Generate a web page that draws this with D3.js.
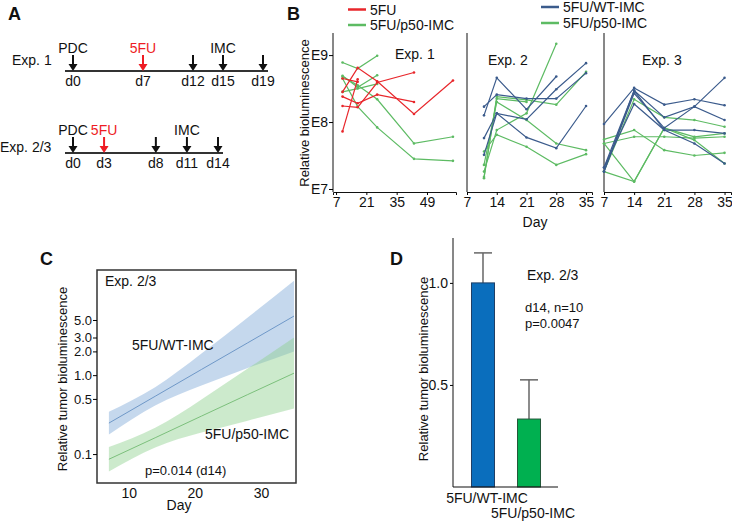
<!DOCTYPE html>
<html>
<head>
<meta charset="utf-8">
<script src="https://cdn.jsdelivr.net/npm/d3@7"></script>
<style>
  body { margin: 0; background: #fff; }
  svg { display: block; font-family: "Liberation Sans", Arial, sans-serif; }
</style>
</head>
<body>
<script>
// ---- Panel A: treatment timelines ----
const a1Days = [0, 7, 12, 15, 19];
const a1Top = ['PDC', '5FU', '', 'IMC', ''];
const a2Days = [0, 3, 8, 11, 14];
const a2Top = ['PDC', '5FU', '', 'IMC', ''];

// ---- Panel B: log10 bioluminescence per mouse ----
const b1Days = [10, 17, 26, 43, 61];
const b1Red = [
  [8.65, 8.60],
  [8.45, 8.81, 8.61, 8.12, 8.62],
  [8.38, 8.28, 8.41, 8.30],
  [8.24, 8.22, 8.59, 8.74],
  [7.86, 8.64]
];
const b1Green = [
  [8.89, 8.80, 8.99],
  [8.69, 8.52, 8.70],
  [8.68, 8.55, 8.34, 7.68, 7.78],
  [8.45, 8.50, 8.57],
  [8.65, 8.23, 7.92, 7.45, 7.42]
];
const b2Days = [11, 14, 21, 28, 35];
const b2Blue = [
  [8.10, 8.66, 8.19, 8.68],
  [8.23, 8.41, 8.35, 8.35, 8.73],
  [7.76, 8.13, 8.04, 8.49, 8.88],
  [7.51, 8.13, 7.77, 7.61, 8.24]
];
const b2Green = [
  [7.16, 8.38, 8.33, 8.26, 8.75],
  [7.26, 7.88, 8.13, 9.17],
  [7.36, 8.30, 8.03, 7.68, 7.58],
  [7.56, 7.81, 7.63, 7.36, 7.52],
  [7.18, 8.35, 8.30]
];
const b3Days = [7, 14, 21, 28, 35];
const b3Blue = [
  [7.97, 8.51, 8.26, 8.34, 8.25],
  [7.32, 8.47, 8.07, 8.23, 8.03],
  [7.26, 8.43, 7.91, 8.23, 8.66],
  [7.32, 8.27, 7.88, 7.88, 7.83],
  [7.26, 8.47, 7.88, 7.68, 7.38]
];
const b3Green = [
  [7.26, 8.34, 8.07, 8.03, 7.93],
  [7.74, 7.88, 7.58, 7.50, 7.54],
  [7.26, 7.11, 7.91, 7.78, 7.83],
  [7.68, 7.78, 7.78, 7.76, 7.78],
  [7.68, 7.11, 7.91, 7.73, 7.38]
];

// ---- Panel C: fitted growth with confidence band ----
const cDays = [7, 14, 21, 28, 35];
const cWtMid = [0.247, 0.540, 1.18, 2.57, 5.61];
const cWtLow = [0.177, 0.413, 0.740, 1.23, 2.00];
const cWtHigh = [0.345, 0.705, 1.875, 5.38, 15.7];
const cP50Mid = [0.086, 0.161, 0.303, 0.568, 1.06];
const cP50Low = [0.060, 0.121, 0.187, 0.265, 0.378];
const cP50High = [0.123, 0.215, 0.491, 1.21, 3.00];
const cTicks = [0.1, 0.5, 1, 2, 3, 5];

// ---- Panel D: day 14 bars ----
const dGroups = ['5FU/WT-IMC', '5FU/p50-IMC'];
const dMeans = [1.0, 0.333];
const dErr = [0.147, 0.192];

const RED = '#e8262b', GREEN = '#5dbb63', BLUE = '#3b5b8c';

const svg = d3.select('body').append('svg')
  .attr('width', 732).attr('height', 522);

function label(x, y, t, opts = {}) {
  return svg.append('text').attr('x', x).attr('y', y)
    .attr('font-size', opts.size || 14)
    .attr('font-weight', opts.bold ? 'bold' : null)
    .attr('text-anchor', opts.anchor || 'start')
    .attr('fill', opts.color || '#111')
    .text(t);
}

// panel letters
label(8, 20, 'A', { size: 18, bold: true });
label(287, 20, 'B', { size: 18, bold: true });
label(40, 265, 'C', { size: 18, bold: true });
label(390, 265, 'D', { size: 18, bold: true });

// ================= Panel A =================
function timeline(days, tops, x, lineY, redIdx, name, nameY) {
  svg.append('line')
    .attr('x1', x(days[0]) - 8).attr('x2', x(days[days.length - 1]) + 5)
    .attr('y1', lineY).attr('y2', lineY)
    .attr('stroke', '#333').attr('stroke-width', 2);
  days.forEach((d, i) => {
    const cx = x(d);
    const col = i === redIdx ? '#ee1c24' : '#111';
    svg.append('line').attr('x1', cx).attr('x2', cx)
      .attr('y1', lineY - 16).attr('y2', lineY - 6)
      .attr('stroke', col).attr('stroke-width', 2);
    svg.append('path')
      .attr('d', `M${cx - 4.5},${lineY - 7} L${cx + 4.5},${lineY - 7} L${cx},${lineY} Z`)
      .attr('fill', col);
    if (tops[i]) label(cx, lineY - 18, tops[i], { anchor: 'middle', color: col });
    label(cx, lineY + 15, 'd' + d, { anchor: 'middle' });
  });
  label(name[0], nameY, name[1]);
}
const xA1 = d3.scaleLinear().domain([0, 19]).range([73, 263]);
const xA2 = d3.scaleLinear().domain([0, 14]).range([73, 218]);
timeline(a1Days, a1Top, xA1, 71, 1, [12, 'Exp. 1'], 65);
timeline(a2Days, a2Top, xA2, 153, 1, [0, 'Exp. 2/3'], 152);

// ================= Panel B =================
const yB = d3.scaleLinear().domain([6.955, 9.33]).range([192, 33]);

function drawLines(groups, days, x, color) {
  const line = d3.line().x((v, i) => x(days[i])).y(v => yB(v));
  groups.forEach(vals => {
    svg.append('path').attr('d', line(vals))
      .attr('fill', 'none').attr('stroke', color).attr('stroke-width', 1.2);
    svg.selectAll(null).data(vals).enter().append('circle')
      .attr('cx', (v, i) => x(days[i])).attr('cy', v => yB(v))
      .attr('r', 1.3).attr('fill', color);
  });
}
function bAxes(x, ticks) {
  const x0 = x.range()[0];
  svg.append('line').attr('x1', x0).attr('x2', x0).attr('y1', 33).attr('y2', 192)
    .attr('stroke', '#111');
  const ax = svg.append('g').attr('transform', 'translate(0,192)')
    .call(d3.axisBottom(x).tickValues(ticks).tickSize(3).tickPadding(2));
  ax.select('.domain').attr('stroke', '#111');
  ax.selectAll('text').attr('font-size', 14).attr('fill', '#111')
    .attr('font-family', '"Liberation Sans", Arial, sans-serif');
}
const xB1 = d3.scaleLinear().domain([5.6, 62.4]).range([333, 456]);
const xB2 = d3.scaleLinear().domain([7, 36.4]).range([467, 592]);
const xB3 = d3.scaleLinear().domain([7, 36.5]).range([604, 731]);

bAxes(xB1, [7, 21, 35, 49]);
bAxes(xB2, [7, 14, 21, 28, 35]);
bAxes(xB3, [7, 14, 21, 28, 35]);

const yAx = svg.append('g').attr('transform', 'translate(333,0)')
  .call(d3.axisLeft(yB).tickValues([7, 8, 9]).tickFormat(d => 'E' + d).tickSize(4).tickPadding(1));
yAx.select('.domain').remove();
yAx.selectAll('text').attr('font-size', 14).attr('fill', '#111')
  .attr('font-family', '"Liberation Sans", Arial, sans-serif');

drawLines(b1Green, b1Days, xB1, GREEN);
drawLines(b1Red, b1Days, xB1, RED);
drawLines(b2Green, b2Days, xB2, GREEN);
drawLines(b2Blue, b2Days, xB2, BLUE);
drawLines(b3Green, b3Days, xB3, GREEN);
drawLines(b3Blue, b3Days, xB3, BLUE);

label(395, 59, 'Exp. 1');
label(488, 65, 'Exp. 2');
label(642, 65, 'Exp. 3');
label(535, 227, 'Day', { anchor: 'middle' });
svg.append('text').attr('transform', 'translate(309,113) rotate(-90)')
  .attr('text-anchor', 'middle').attr('font-size', 13).attr('fill', '#111')
  .text('Relative bioluminescence');

// legends
[[348, 9.5, RED, '5FU'], [348, 25, GREEN, '5FU/p50-IMC'],
 [541, 7, BLUE, '5FU/WT-IMC'], [541, 23, GREEN, '5FU/p50-IMC']].forEach(([lx, ly, c, t]) => {
  svg.append('line').attr('x1', lx).attr('x2', lx + 18).attr('y1', ly).attr('y2', ly)
    .attr('stroke', c).attr('stroke-width', 2.5);
  label(lx + 22, ly + 5, t);
});

// ================= Panel C =================
const xC = d3.scaleLinear().domain([5.2, 35.3]).range([97, 296]);
const yC = d3.scaleLog().domain([0.043, 21.5]).range([483, 270]);

svg.append('clipPath').attr('id', 'cclip')
  .append('rect').attr('x', 97).attr('y', 270).attr('width', 199).attr('height', 213);
const gC = svg.append('g').attr('clip-path', 'url(#cclip)');

function band(low, high, fill) {
  const area = d3.area().curve(d3.curveNatural)
    .x((d, i) => xC(cDays[i])).y0((d, i) => yC(low[i])).y1((d, i) => yC(high[i]));
  gC.append('path').attr('d', area(cDays)).attr('fill', fill).attr('fill-opacity', 0.45);
}
function mid(vals, color) {
  const line = d3.line().x((d, i) => xC(cDays[i])).y(d => yC(d));
  gC.append('path').attr('d', line(vals)).attr('fill', 'none')
    .attr('stroke', color).attr('stroke-width', 1);
}
band(cWtLow, cWtHigh, '#7fa9d6');
band(cP50Low, cP50High, '#8fd18f');
mid(cWtMid, '#6f98c8');
mid(cP50Mid, '#7cc07c');

svg.append('rect').attr('x', 97).attr('y', 270).attr('width', 199).attr('height', 213)
  .attr('fill', 'none').attr('stroke', '#333').attr('stroke-width', 1.5);

const cy = svg.append('g').attr('transform', 'translate(97,0)')
  .call(d3.axisLeft(yC).tickValues(cTicks).tickFormat(d3.format('.1f')).tickSize(4).tickPadding(1));
cy.select('.domain').remove();
cy.selectAll('text').attr('font-size', 13).attr('fill', '#111')
  .attr('font-family', '"Liberation Sans", Arial, sans-serif');

const cx = svg.append('g').attr('transform', 'translate(0,483)')
  .call(d3.axisBottom(xC).tickValues([10, 20, 30]).tickSize(0).tickPadding(5));
cx.select('.domain').remove();
cx.selectAll('text').attr('font-size', 14).attr('fill', '#111')
  .attr('font-family', '"Liberation Sans", Arial, sans-serif');

label(179, 510, 'Day', { anchor: 'middle' });
label(105, 286, 'Exp. 2/3');
label(132, 350, '5FU/WT-IMC');
label(205, 439, '5FU/p50-IMC');
label(145, 475, 'p=0.014 (d14)', { size: 13 });
svg.append('text').attr('transform', 'translate(67,379) rotate(-90)')
  .attr('text-anchor', 'middle').attr('font-size', 13).attr('fill', '#111')
  .text('Relative tumor bioluminescence');

// ================= Panel D =================
const yD = d3.scaleLinear().domain([0, 1.22]).range([487, 238]);
const xD = d3.scaleBand().domain(dGroups).range([453, 559])
  .paddingInner(0.5).paddingOuter(0.402);

const dy = svg.append('g').attr('transform', 'translate(453,0)')
  .call(d3.axisLeft(yD).tickValues([0.5, 1.0]).tickFormat(d3.format('.1f')).tickSize(3).tickPadding(2));
dy.select('.domain').remove();
dy.selectAll('text').attr('font-size', 14).attr('fill', '#111')
  .attr('font-family', '"Liberation Sans", Arial, sans-serif');
svg.append('line').attr('x1', 453).attr('x2', 453).attr('y1', 238).attr('y2', 487).attr('stroke', '#111');

const dFill = ['#0a6ebd', '#00b050'];
const dStroke = ['#1f3f66', '#24583a'];
dGroups.forEach((g, i) => {
  const bx = xD(g), bw = xD.bandwidth(), c = bx + bw / 2;
  svg.append('line').attr('x1', c).attr('x2', c)
    .attr('y1', yD(dMeans[i])).attr('y2', yD(dMeans[i] + dErr[i]))
    .attr('stroke', '#666').attr('stroke-width', 1.5);
  svg.append('line').attr('x1', c - 9).attr('x2', c + 9)
    .attr('y1', yD(dMeans[i] + dErr[i])).attr('y2', yD(dMeans[i] + dErr[i]))
    .attr('stroke', '#666').attr('stroke-width', 1.5);
  svg.append('rect').attr('x', bx).attr('y', yD(dMeans[i]))
    .attr('width', bw).attr('height', yD(0) - yD(dMeans[i]))
    .attr('fill', dFill[i]).attr('stroke', dStroke[i]).attr('stroke-width', 1);
  label(c + 4, 503 + i * 15, g, { anchor: 'middle' });
});
svg.append('line').attr('x1', 453).attr('x2', 558).attr('y1', 487).attr('y2', 487)
  .attr('stroke', '#111').attr('stroke-width', 1.2);

label(527, 280, 'Exp. 2/3');
label(525, 312, 'd14, n=10', { size: 13 });
label(525, 328, 'p=0.0047', { size: 13 });
svg.append('text').attr('transform', 'translate(428,369) rotate(-90)')
  .attr('text-anchor', 'middle').attr('font-size', 13).attr('fill', '#111')
  .text('Relative tumor bioluminescence');
</script>
</body>
</html>
